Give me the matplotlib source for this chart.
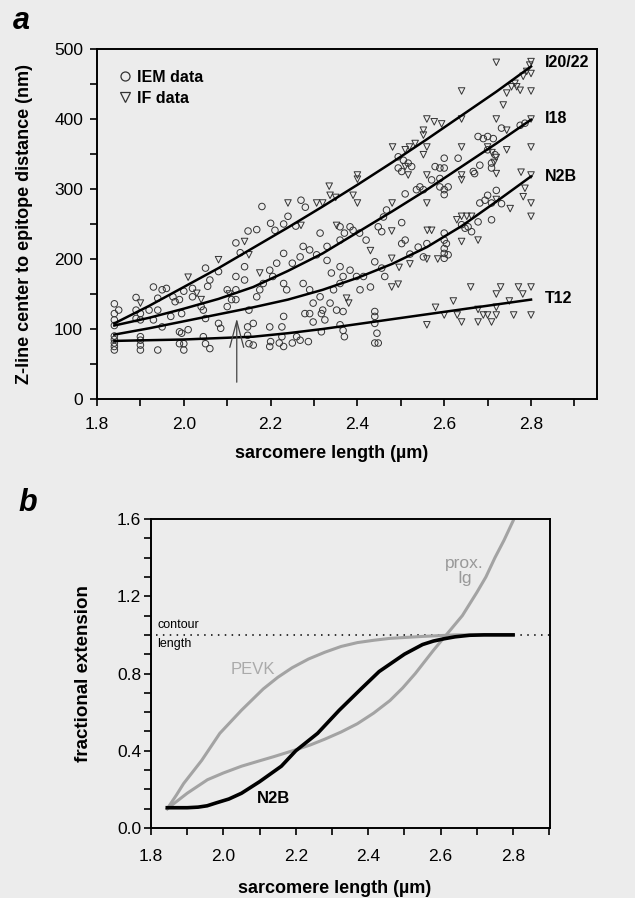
import matplotlib
matplotlib.use("Agg")
import matplotlib.pyplot as plt
from matplotlib.ticker import MultipleLocator, FormatStrFormatter
from matplotlib.lines import Line2D

plt.rcParams['font.family'] = ['Liberation Sans', 'DejaVu Sans']

# ---------------- Panel a data ----------------
iem_x = [1.84, 1.85, 1.84, 1.84, 1.84, 1.84, 1.84, 1.84, 1.84, 1.84,
         1.89, 1.89, 1.90, 1.89, 1.90, 1.90, 1.90, 1.90, 1.90,
         1.93, 1.92, 1.94, 1.94, 1.95, 1.94, 1.93, 1.95,
         1.96, 1.975, 1.98, 1.99, 2.0, 1.97, 1.995, 1.99, 1.995, 2.0, 2.0, 1.99, 2.01,
         2.02, 2.02, 2.04, 2.045, 2.05, 2.045, 2.05, 2.06, 2.06, 2.055, 2.05,
         2.08, 2.08, 2.085, 2.10, 2.10, 2.11,
         2.12, 2.13, 2.12, 2.12, 2.12, 2.14, 2.14, 2.148, 2.15, 2.147, 2.147, 2.15, 2.16,
         2.18, 2.27, 2.28, 2.24, 2.20, 2.23, 2.258, 2.168, 2.21, 2.314, 2.36, 2.37, 2.383, 2.39,
         2.405, 2.42, 2.36, 2.46, 2.467, 2.448, 2.456,
         2.23, 2.275, 2.29, 2.306, 2.33, 2.33, 2.268, 2.25, 2.214, 2.198, 2.205, 2.23, 2.237,
         2.183, 2.175, 2.168, 2.275, 2.29, 2.314, 2.298, 2.32, 2.34, 2.36, 2.367, 2.383, 2.398,
         2.414, 2.43, 2.406, 2.36, 2.345, 2.352, 2.367, 2.44, 2.456, 2.463, 2.337, 2.279, 2.29,
         2.317, 2.325, 2.298, 2.44, 2.44, 2.44, 2.445, 2.44, 2.448,
         2.16, 2.198, 2.226, 2.23, 2.226, 2.22, 2.23, 2.26, 2.268, 2.287, 2.25, 2.198, 2.317,
         2.36, 2.37, 2.367, 2.2,
         2.678, 2.69, 2.70, 2.713, 2.732, 2.682, 2.667, 2.67, 2.632, 2.60, 2.579, 2.59, 2.60,
         2.571, 2.59, 2.59, 2.60, 2.609, 2.60, 2.544, 2.552, 2.536, 2.51, 2.775, 2.786, 2.70,
         2.717, 2.709, 2.709,
         2.72, 2.70, 2.694, 2.682, 2.709, 2.732, 2.709, 2.678, 2.64, 2.648, 2.663, 2.655, 2.502,
         2.502, 2.51, 2.56, 2.60, 2.60, 2.605, 2.60, 2.60, 2.60, 2.609, 2.54, 2.521, 2.552,
         2.494, 2.506, 2.517, 2.494, 2.502, 2.525]
iem_y = [136, 127, 122, 113, 105, 90, 85, 80, 75, 70,
         145, 127, 122, 115, 113, 89, 84, 77, 70,
         160, 127, 127, 144, 156, 70, 113, 103,
         158, 146, 139, 142, 154, 118, 122, 96, 94, 79, 70, 79, 99,
         158, 146, 132, 127, 115, 89, 79, 72, 170, 161, 187,
         182, 108, 101, 156, 132, 142,
         223, 209, 175, 156, 142, 170, 189, 240, 127, 103, 91, 79, 77,
         275, 284, 274, 261, 251, 250, 247, 242, 241, 237, 246, 237, 246, 241,
         237, 227, 227, 260, 270, 246, 239,
         208, 218, 213, 206, 218, 198, 203, 194, 194, 184, 175, 165, 156,
         165, 156, 146, 165, 156, 146, 137, 127, 180, 189, 175, 184, 175,
         175, 160, 156, 165, 156, 127, 125, 196, 187, 175, 137, 122, 122,
         122, 113, 110, 125, 118, 108, 94, 80, 80,
         108, 103, 103, 118, 89, 80, 75, 89, 84, 82, 80, 75, 96,
         106, 89, 98, 82,
         375, 372, 375, 372, 387, 334, 325, 322, 344, 344, 332, 330, 330,
         313, 315, 303, 299, 303, 292, 303, 299, 299, 293, 391, 394, 356,
         349, 337, 330,
         298, 291, 284, 280, 280, 279, 256, 253, 249, 244, 239, 246, 252,
         222, 227, 222, 237, 227, 222, 215, 208, 201, 206, 217, 207, 203,
         346, 341, 337, 330, 325, 332]

if_x = [1.90, 2.01, 2.04, 2.03, 2.08, 2.105, 2.14, 2.15, 2.175,
        2.481, 2.40, 2.40, 2.335, 2.337, 2.24, 2.306, 2.32, 2.35, 2.39, 2.40, 2.48, 2.479,
        2.352, 2.27, 2.43, 2.375, 2.38, 2.479, 2.479,
        2.72, 2.64, 2.80, 2.736, 2.744, 2.755, 2.767, 2.775, 2.763, 2.782, 2.79, 2.797, 2.80, 2.80,
        2.56, 2.577, 2.594, 2.552, 2.552, 2.56, 2.552, 2.64, 2.64, 2.72, 2.56, 2.64, 2.64, 2.80,
        2.80, 2.744, 2.777, 2.72, 2.744, 2.533, 2.52, 2.51, 2.517, 2.51,
        2.70, 2.71, 2.72, 2.715,
        2.56, 2.752, 2.80, 2.80, 2.80, 2.64, 2.629, 2.652, 2.663, 2.64, 2.678, 2.561, 2.571,
        2.585, 2.56, 2.521, 2.496, 2.494, 2.72, 2.782, 2.786,
        2.661, 2.73, 2.771, 2.80, 2.72, 2.781, 2.621, 2.75, 2.58, 2.60, 2.63, 2.678, 2.69,
        2.70, 2.72, 2.72, 2.76, 2.80, 2.56, 2.64, 2.678, 2.709]
if_y = [137, 174, 142, 151, 199, 150, 225, 206, 180,
        360, 320, 314, 304, 291, 280, 280, 280, 288, 291, 280, 280, 240,
        248, 248, 212, 144, 137, 160, 201,
        481, 440, 440, 420, 437, 446, 446, 441, 451, 461, 468, 477, 482, 465,
        400, 396, 393, 384, 377, 360, 349, 400, 360, 400, 320, 320, 313, 400,
        360, 384, 324, 322, 356, 365, 360, 356, 320, 332,
        360, 352, 345, 338,
        280, 272, 280, 261, 320, 261, 256, 261, 261, 225, 227, 241, 241,
        200, 200, 193, 188, 164, 285, 289, 301,
        160, 160, 160, 160, 150, 150, 140, 140, 131, 120, 120, 128, 120,
        120, 120, 131, 120, 120, 106, 110, 110, 110]

# regression curves (read at these sarcomere lengths)
fit_x = [1.84, 1.92, 2.00, 2.08, 2.16, 2.24, 2.32, 2.40, 2.48, 2.56, 2.64, 2.72, 2.80]
fit_i2022 = [108, 133, 160, 187, 216, 245, 275, 306, 338, 371, 405, 439, 475]
fit_i18 = [105, 116, 129, 143, 160, 183, 208, 238, 268, 299, 332, 365, 399]
fit_n2b = [92, 101, 111, 121, 131, 142, 156, 173, 193, 217, 247, 282, 318]
fit_t12 = [83, 84, 85, 87, 89, 94, 100, 107, 114, 121, 128, 135, 142]
fit_names = ['I20/22', 'I18', 'N2B', 'T12']
label_y = [480, 401, 318, 143]

# ---------------- Panel b data ----------------
n2b_x = [1.845, 1.90, 1.93, 1.955, 1.98, 2.015, 2.05, 2.075, 2.10, 2.13, 2.16, 2.18, 2.20,
         2.23, 2.26, 2.29, 2.32, 2.35, 2.38, 2.405, 2.43, 2.465, 2.50, 2.525, 2.55, 2.58,
         2.61, 2.64, 2.68, 2.72, 2.80]
n2b_y = [0.105, 0.105, 0.108, 0.115, 0.13, 0.15, 0.18, 0.21, 0.24, 0.28, 0.32, 0.36, 0.40,
         0.445, 0.49, 0.55, 0.61, 0.665, 0.72, 0.765, 0.81, 0.855, 0.90, 0.925, 0.95, 0.968,
         0.98, 0.99, 0.998, 1.0, 1.0]
pevk_x = [1.845, 1.87, 1.89, 1.915, 1.94, 1.965, 1.99, 2.02, 2.05, 2.08, 2.11, 2.15, 2.19,
          2.235, 2.28, 2.325, 2.37, 2.415, 2.46, 2.55, 2.64, 2.80]
pevk_y = [0.10, 0.17, 0.23, 0.29, 0.35, 0.42, 0.49, 0.55, 0.61, 0.665, 0.72, 0.78, 0.83,
          0.875, 0.91, 0.94, 0.96, 0.972, 0.982, 0.992, 1.0, 1.0]
ig_x = [1.845, 1.90, 1.956, 2.00, 2.05, 2.10, 2.14, 2.20, 2.24, 2.28, 2.325, 2.37, 2.415,
        2.46, 2.495, 2.53, 2.555, 2.58, 2.60, 2.62, 2.64, 2.66, 2.68, 2.70, 2.725, 2.75,
        2.775, 2.80]
ig_y = [0.10, 0.18, 0.25, 0.285, 0.32, 0.348, 0.37, 0.405, 0.43, 0.46, 0.497, 0.54, 0.595,
        0.66, 0.725, 0.80, 0.86, 0.92, 0.965, 1.01, 1.055, 1.10, 1.16, 1.22, 1.30, 1.40,
        1.49, 1.59]

bg = '#ececec'
fig = plt.figure(figsize=(6.35, 8.98), dpi=100, facecolor=bg)

# ================= Panel a =================
ax = fig.add_axes([97/635, 1-399/898, 500/635, 350/898], facecolor=bg)
ax.scatter(iem_x, iem_y, s=22, marker='o', facecolors='none', edgecolors='#333333', linewidths=0.7, zorder=2)
ax.scatter(if_x, if_y, s=22, marker='v', facecolors='none', edgecolors='#333333', linewidths=0.7, zorder=2)
for fy, name, ly in zip([fit_i2022, fit_i18, fit_n2b, fit_t12], fit_names, label_y):
    ax.plot(fit_x, fy, color='black', lw=1.8, zorder=3)
    ax.text(2.832, ly, name, fontsize=11.5, fontweight='bold', va='center', ha='left')

ax.annotate('', xy=(2.122, 115), xytext=(2.122, 24),
            arrowprops=dict(arrowstyle='->,head_length=1.9,head_width=0.5', color='#444444',
                            lw=0.9, mutation_scale=10, shrinkA=0, shrinkB=0))

ax.set_xlim(1.8, 2.952)
ax.set_ylim(0, 500)
ax.xaxis.set_major_locator(MultipleLocator(0.2))
ax.xaxis.set_minor_locator(MultipleLocator(0.1))
ax.xaxis.set_major_formatter(FormatStrFormatter('%.1f'))
ax.yaxis.set_major_locator(MultipleLocator(100))
ax.yaxis.set_minor_locator(MultipleLocator(50))
ax.tick_params(which='both', direction='out', length=5, width=1.2, labelsize=12.5)
ax.tick_params(axis='x', pad=8)
ax.tick_params(axis='y', pad=5)
for s in ax.spines.values():
    s.set_linewidth(1.4)
ax.set_xlabel('sarcomere length (\u00b5m)', fontsize=13, fontweight='bold')
ax.xaxis.set_label_coords(0.47, -0.132)
ax.set_ylabel('Z-line center to epitope distance (nm)', fontsize=13, fontweight='bold')
ax.yaxis.set_label_coords(-0.128, 0.5)

h1 = Line2D([], [], marker='o', ls='none', mfc='none', mec='#333333', ms=6.5, mew=0.9)
h2 = Line2D([], [], marker='v', ls='none', mfc='none', mec='#333333', ms=6.5, mew=0.9)
leg = ax.legend([h1, h2], ['IEM data', 'IF data'], loc='upper left', bbox_to_anchor=(0.044, 0.94),
                frameon=False, handletextpad=0.3, handlelength=0.8, labelspacing=0.35,
                borderaxespad=0, borderpad=0, prop={'weight': 'bold', 'size': 11.5})

fig.text(13/635, 1-29/898, 'a', fontsize=22, fontweight='bold', fontstyle='italic', ha='left', va='baseline')

# ================= Panel b =================
bx = fig.add_axes([151/635, 1-828/898, 399/635, 309/898], facecolor=bg)
bx.plot([1.815, 2.902], [1.0, 1.0], color='black', ls=(0, (1, 3.5)), lw=1.1, zorder=1)
bx.plot(pevk_x, pevk_y, color='#a3a3a3', lw=2.2, zorder=2)
bx.plot(ig_x, ig_y, color='#a3a3a3', lw=2.2, zorder=2)
bx.plot(n2b_x, n2b_y, color='black', lw=2.6, zorder=3)
bx.text(2.08, 0.82, 'PEVK', color='#aaaaaa', fontsize=12, ha='center', va='center')
bx.text(2.666, 1.33, 'prox.\nIg', color='#999999', fontsize=12.5, ha='center', va='center', linespacing=1.0)
bx.text(2.138, 0.155, 'N2B', color='black', fontsize=12, fontweight='bold', ha='center', va='center')
bx.text(1.817, 1.018, 'contour', fontsize=9, ha='left', va='bottom')
bx.text(1.817, 0.985, 'length', fontsize=9, ha='left', va='top')

bx.set_xlim(1.8, 2.902)
bx.set_ylim(0, 1.6)
bx.xaxis.set_major_locator(MultipleLocator(0.2))
bx.xaxis.set_minor_locator(MultipleLocator(0.1))
bx.xaxis.set_major_formatter(FormatStrFormatter('%.1f'))
bx.yaxis.set_major_locator(MultipleLocator(0.4))
bx.yaxis.set_minor_locator(MultipleLocator(0.1))
bx.yaxis.set_major_formatter(FormatStrFormatter('%.1f'))
bx.tick_params(which='both', direction='out', length=5, width=1.2, labelsize=12.5)
bx.tick_params(axis='x', pad=10)
bx.tick_params(axis='y', pad=2)
for s in bx.spines.values():
    s.set_linewidth(1.4)
bx.set_xlabel('sarcomere length (\u00b5m)', fontsize=13, fontweight='bold')
bx.xaxis.set_label_coords(0.46, -0.168)
bx.set_ylabel('fractional extension', fontsize=13.5, fontweight='bold')
bx.yaxis.set_label_coords(-0.148, 0.5)

fig.text(18/635, 1-511/898, 'b', fontsize=22, fontweight='bold', fontstyle='italic', ha='left', va='baseline')

fig.savefig('out.png', dpi=100, facecolor=bg)
